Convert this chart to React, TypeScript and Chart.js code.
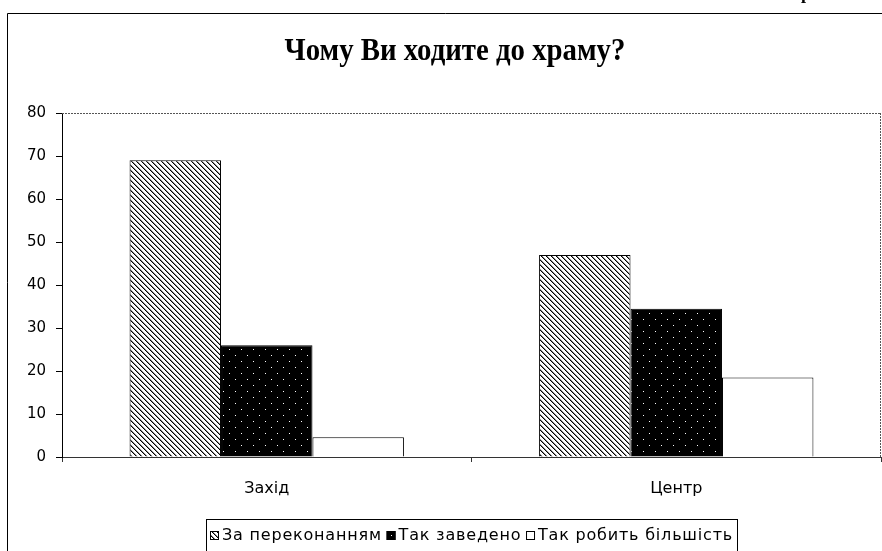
import React, { useEffect, useRef } from 'react';
import { Chart, registerables } from 'chart.js';

Chart.register(...registerables);

const chartTitle = 'Чому Ви ходите до храму?';
const categories = ['Захід', 'Центр'];
const seriesNames = ['За переконанням', 'Так заведено', 'Так робить більшість'];
const byConviction = [69, 47];
const byCustom = [26, 34.5];
const byMajority = [4.6, 18.5];
const yMin = 0;
const yMax = 80;
const yStep = 10;

const W = 882;
const H = 551;
const FONT = '"DejaVu Sans", "Liberation Sans", Arial, sans-serif';

function makeHatch(): CanvasPattern | string {
  const n = 5;
  const c = document.createElement('canvas');
  c.width = n;
  c.height = n;
  const g = c.getContext('2d');
  if (!g) return '#999';
  g.fillStyle = '#fff';
  g.fillRect(0, 0, n, n);
  for (let i = 0; i < n; i++) {
    g.fillStyle = '#000';
    g.fillRect(i, i, 1, 1);
    g.fillStyle = '#8a8a8a';
    g.fillRect((i + 1) % n, i, 1, 1);
  }
  return g.createPattern(c, 'repeat') || '#999';
}

function makeDots(): CanvasPattern | string {
  const c = document.createElement('canvas');
  c.width = 12;
  c.height = 12;
  const g = c.getContext('2d');
  if (!g) return '#000';
  g.fillStyle = '#000';
  g.fillRect(0, 0, 12, 12);
  g.fillStyle = '#fff';
  g.fillRect(1, 1, 1, 1);
  g.fillRect(7, 7, 1, 1);
  return g.createPattern(c, 'repeat') || '#000';
}

export default function App() {
  const ref = useRef<HTMLCanvasElement | null>(null);

  useEffect(() => {
    const canvas = ref.current;
    if (!canvas) return;
    const fills = [makeHatch(), makeDots(), '#ffffff'];

    const decor = {
      id: 'decor',
      afterDraw(chart: any) {
        const ctx = chart.ctx as CanvasRenderingContext2D;
        const a = chart.chartArea;
        ctx.save();
        // outer frame
        ctx.strokeStyle = '#000';
        ctx.lineWidth = 1;
        ctx.beginPath();
        ctx.moveTo(7.5, H + 2);
        ctx.lineTo(7.5, 13.5);
        ctx.lineTo(W + 2, 13.5);
        ctx.stroke();
        // fragment of text above the frame
        ctx.fillStyle = '#000';
        ctx.font = 'bold 18px "Liberation Serif", serif';
        ctx.textAlign = 'left';
        ctx.textBaseline = 'alphabetic';
        ctx.fillText('р', 801, -1);
        // title (condensed bold serif)
        ctx.save();
        ctx.translate(455, 52);
        ctx.scale(0.9, 1);
        ctx.font = 'bold 32px "Liberation Serif", "DejaVu Serif", serif';
        ctx.textAlign = 'center';
        ctx.textBaseline = 'middle';
        ctx.fillText(chartTitle, 0, 0);
        ctx.restore();
        // dotted plot border top/right
        ctx.strokeStyle = '#555';
        ctx.setLineDash([2, 1]);
        ctx.beginPath();
        ctx.moveTo(a.left, Math.round(a.top) + 0.5);
        ctx.lineTo(a.right, Math.round(a.top) + 0.5);
        ctx.moveTo(Math.round(a.right) - 0.5, a.top);
        ctx.lineTo(Math.round(a.right) - 0.5, a.bottom);
        ctx.stroke();
        ctx.setLineDash([]);
        // legend
        ctx.strokeStyle = '#000';
        ctx.lineWidth = 1;
        ctx.strokeRect(206.5, 519.5, 531, 60);
        ctx.font = '16px ' + FONT;
        try {
          (ctx as any).letterSpacing = '0.8px';
        } catch (e) {
          /* ignore */
        }
        ctx.textAlign = 'left';
        ctx.textBaseline = 'middle';
        const widths = seriesNames.map((n) => ctx.measureText(n).width);
        const startX = 210;
        const endX = 733;
        const used = widths.reduce((s, w) => s + 12 + w, 0);
        const gap = Math.max(3, (endX - startX - used) / (seriesNames.length - 1));
        let x = startX;
        const cy = 536;
        seriesNames.forEach((name, i) => {
          ctx.fillStyle = fills[i] as any;
          ctx.fillRect(x, cy - 5, 9, 9);
          ctx.strokeStyle = '#000';
          ctx.strokeRect(x + 0.5, cy - 4.5, 8, 8);
          ctx.fillStyle = '#000';
          ctx.fillText(name, x + 12, cy);
          x += 12 + widths[i] + gap;
        });
        ctx.restore();
      },
    };

    const chart = new Chart(canvas, {
      type: 'bar',
      data: {
        labels: categories,
        datasets: [byConviction, byCustom, byMajority].map((d, i) => ({
          label: seriesNames[i],
          data: d,
          backgroundColor: fills[i] as any,
          borderColor: '#000',
          borderWidth: 1,
          categoryPercentage: 0.67,
          barPercentage: 1.0,
        })),
      },
      options: {
        responsive: false,
        animation: false,
        devicePixelRatio: 1,
        layout: { padding: { left: 7, top: 113, right: 1, bottom: 54 } },
        plugins: {
          legend: { display: false },
          title: { display: false },
          tooltip: { enabled: false },
        },
        scales: {
          x: {
            afterFit: (s: any) => {
              s.height = 40;
            },
            grid: {
              display: true,
              drawOnChartArea: false,
              drawTicks: true,
              tickLength: 5,
              color: '#333',
              offset: true,
            },
            border: { display: true, color: '#333', width: 1 },
            ticks: { color: '#000', font: { family: FONT, size: 16 }, padding: 17 },
          },
          y: {
            min: yMin,
            max: yMax,
            afterFit: (s: any) => {
              s.width = 55;
            },
            grid: {
              display: true,
              drawOnChartArea: false,
              drawTicks: true,
              tickLength: 6,
              color: '#000',
            },
            border: { display: true, color: '#000', width: 1 },
            ticks: {
              stepSize: yStep,
              color: '#000',
              font: { family: FONT, size: 15 },
              padding: 10,
            },
          },
        },
      },
      plugins: [decor],
    });
    return () => chart.destroy();
  }, []);

  return (
    <div style={{ position: 'fixed', left: 0, top: 0, width: W, height: H, background: '#fff' }}>
      <canvas ref={ref} width={W} height={H} style={{ display: 'block', width: W, height: H }} />
    </div>
  );
}
